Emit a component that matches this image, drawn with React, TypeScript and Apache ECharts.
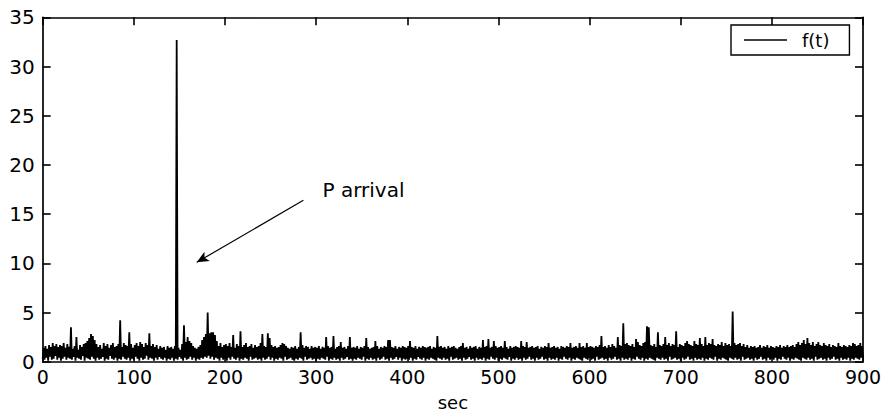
import React, { useEffect, useRef } from "react";
import * as echarts from "echarts";

// f(t), sampled once per second from t = 0 to t = 900 s (one row = 20 s)
const fValues: number[] = [
  0.3,1.4,0.2,1.6,0.4,1.3,0.1,1.7,0.5,1.5,0.2,1.9,0.3,1.6,0.6,1.8,0.2,1.5,0.4,1.7,
  0.1,1.6,0.3,1.9,0.5,1.4,0.2,1.8,0.4,1.5,0.3,3.5,0.2,1.3,0.5,1.6,0.1,2.5,0.4,1.2,
  0.3,1.7,0.2,1.5,0.6,1.8,0.1,1.9,0.4,2.1,0.3,2.4,0.2,2.8,0.5,2.6,0.3,2.2,0.1,1.8,
  0.4,1.5,0.2,1.7,0.3,1.3,0.5,1.9,0.1,1.6,0.3,1.8,0.2,1.4,0.6,1.7,0.3,1.9,0.2,1.5,
  0.4,1.6,0.1,1.8,0.3,4.2,0.2,1.5,0.5,1.9,0.3,1.7,0.2,1.6,0.4,3.0,0.1,1.8,0.3,1.4,
  0.2,1.7,0.5,1.9,0.3,1.6,0.1,2.0,0.4,1.8,0.2,1.5,0.3,1.9,0.6,1.7,0.2,2.9,0.4,1.6,
  0.3,1.8,0.1,1.5,0.4,1.7,0.2,1.3,0.5,1.6,0.3,1.4,0.2,1.5,0.4,1.2,0.1,1.6,0.3,1.4,
  0.2,1.5,0.4,1.3,0.1,1.6,0.3,32.7,0.2,1.4,0.5,1.2,0.3,1.8,0.1,3.7,0.4,2.0,0.2,2.5,
  0.3,2.1,0.5,1.9,0.2,1.6,0.4,1.4,0.1,1.3,0.3,1.5,0.2,1.7,0.4,2.2,0.3,2.5,0.5,2.8,
  0.4,5.0,0.6,2.9,0.3,3.0,0.5,3.0,0.2,2.7,0.4,2.1,0.3,1.6,0.1,1.9,0.4,1.5,0.2,1.7,
  0.3,1.8,0.1,1.6,0.4,1.9,0.2,1.5,0.5,2.7,0.3,1.4,0.2,1.8,0.4,1.6,0.1,3.1,0.3,1.5,
  0.2,1.7,0.4,1.9,0.3,1.5,0.1,1.6,0.5,1.8,0.2,1.4,0.3,1.7,0.4,1.5,0.2,1.6,0.3,1.9,
  0.1,2.8,0.4,1.6,0.2,1.5,0.3,2.9,0.5,2.4,0.2,1.7,0.4,1.5,0.1,1.6,0.3,1.4,0.2,1.5,
  0.4,1.7,0.3,1.9,0.1,1.8,0.5,1.6,0.2,1.4,0.3,1.3,0.4,1.5,0.2,1.4,0.1,1.6,0.3,1.3,
  0.2,1.5,0.4,3.0,0.3,1.7,0.1,1.4,0.5,1.6,0.2,1.5,0.3,1.3,0.4,1.6,0.2,1.4,0.3,1.5,
  0.1,1.4,0.3,1.6,0.2,1.3,0.4,1.5,0.3,1.4,0.2,2.5,0.5,1.6,0.1,1.4,0.3,1.5,0.2,2.6,
  0.4,1.3,0.2,1.5,0.3,1.6,0.1,2.0,0.4,1.4,0.2,1.5,0.3,1.3,0.5,1.6,0.2,2.5,0.3,1.4,
  0.1,1.5,0.3,1.4,0.2,1.6,0.4,1.3,0.3,1.5,0.2,1.4,0.5,1.6,0.1,2.4,0.3,1.5,0.2,1.3,
  0.4,1.4,0.2,1.5,0.3,2.1,0.1,1.6,0.4,1.3,0.2,1.5,0.3,1.4,0.5,1.6,0.2,1.5,0.3,2.2,
  0.1,2.2,0.4,1.5,0.2,1.4,0.3,1.6,0.5,1.3,0.2,1.5,0.4,1.4,0.1,1.6,0.3,1.5,0.2,1.4,
  0.3,1.6,0.2,2.1,0.4,1.5,0.1,1.4,0.3,1.6,0.2,1.3,0.5,1.5,0.3,1.4,0.2,1.6,0.4,1.5,
  0.1,1.4,0.3,1.5,0.2,1.6,0.4,1.3,0.3,1.5,0.2,1.4,0.1,2.6,0.4,1.5,0.3,1.6,0.2,1.4,
  0.4,1.5,0.2,1.3,0.3,1.6,0.1,1.4,0.5,1.5,0.2,1.6,0.3,1.4,0.4,1.3,0.2,1.5,0.3,1.6,
  0.1,1.9,0.4,1.4,0.2,1.5,0.3,1.3,0.5,1.6,0.2,1.4,0.3,1.5,0.1,1.6,0.4,1.3,0.2,1.5,
  0.3,1.4,0.2,2.2,0.4,1.5,0.1,1.6,0.3,2.3,0.2,1.4,0.5,1.5,0.3,2.1,0.2,1.6,0.4,1.4,
  0.1,1.5,0.3,1.6,0.2,1.4,0.4,2.1,0.3,1.5,0.2,1.3,0.5,1.6,0.1,1.4,0.3,1.5,0.2,1.6,
  0.4,1.5,0.2,1.4,0.3,2.1,0.1,1.6,0.4,1.5,0.2,2.0,0.3,1.4,0.5,1.5,0.2,1.6,0.3,1.4,
  0.1,1.5,0.4,1.6,0.2,1.3,0.3,1.5,0.5,1.4,0.2,1.6,0.3,1.5,0.1,1.9,0.4,1.4,0.2,1.5,
  0.3,1.6,0.2,1.4,0.4,1.5,0.1,1.3,0.3,1.6,0.2,1.5,0.5,1.4,0.3,1.6,0.2,1.5,0.4,1.9,
  0.1,1.4,0.3,1.5,0.2,1.6,0.4,1.4,0.3,1.9,0.2,1.5,0.1,1.6,0.4,1.4,0.3,1.9,0.2,1.5,
  0.4,1.6,0.2,1.5,0.3,1.4,0.1,1.6,0.5,1.5,0.2,1.7,0.3,2.6,0.4,1.5,0.2,1.6,0.3,1.4,
  0.1,1.7,0.4,1.5,0.2,1.8,0.3,1.6,0.5,1.4,0.2,2.5,0.3,1.7,0.1,1.6,0.4,3.9,0.2,1.8,
  0.3,1.9,0.2,1.7,0.4,1.6,0.1,1.8,0.3,1.5,0.2,2.3,0.5,2.0,0.3,1.7,0.2,1.6,0.4,1.9,
  0.1,2.0,0.3,3.6,0.2,3.5,0.4,1.7,0.3,1.6,0.2,1.8,0.1,1.5,0.4,3.0,0.3,1.7,0.2,1.6,
  0.4,1.8,0.2,2.5,0.3,1.7,0.1,1.9,0.5,1.6,0.2,1.8,0.3,1.7,0.4,3.1,0.2,1.5,0.3,1.8,
  0.1,1.7,0.4,1.6,0.2,1.9,0.3,2.1,0.5,1.8,0.2,1.7,0.3,1.6,0.1,2.1,0.4,1.8,0.2,1.7,
  0.3,2.4,0.2,1.8,0.4,1.6,0.1,2.5,0.3,1.7,0.2,1.9,0.4,1.8,0.3,2.3,0.2,1.7,0.5,1.6,
  0.1,1.8,0.3,1.7,0.2,2.0,0.4,1.6,0.3,1.9,0.2,1.7,0.1,1.8,0.4,1.6,0.3,5.1,0.2,1.9,
  0.4,1.7,0.2,1.8,0.3,1.9,0.1,1.6,0.5,1.8,0.2,1.5,0.3,1.7,0.4,1.4,0.2,1.6,0.3,1.5,
  0.1,1.6,0.4,1.4,0.2,1.5,0.3,1.7,0.5,1.4,0.2,1.6,0.3,1.5,0.1,1.7,0.4,1.4,0.2,1.6,
  0.3,1.5,0.2,1.4,0.4,1.6,0.1,1.5,0.3,1.7,0.2,1.4,0.5,1.6,0.3,1.5,0.2,1.7,0.4,1.5,
  0.1,1.6,0.3,1.7,0.2,1.5,0.4,1.8,0.3,2.0,0.2,1.7,0.1,1.9,0.4,2.2,0.3,1.8,0.2,2.4,
  0.4,1.9,0.2,1.7,0.3,2.0,0.1,1.6,0.5,1.8,0.2,2.0,0.3,1.7,0.4,1.6,0.2,1.9,0.3,1.7,
  0.1,1.6,0.4,1.8,0.2,1.5,0.3,1.7,0.5,1.6,0.2,1.5,0.3,1.9,0.1,1.6,0.4,1.5,0.2,1.7,
  0.3,1.6,0.2,1.5,0.4,1.7,0.1,1.6,0.3,1.9,0.2,1.8,0.4,1.6,0.3,1.7,0.2,1.9,0.4,1.6,
  0.3,
];

const sampleStep = 1; // seconds between samples
const xRange = [0, 900];
const xTickStep = 100;
const yRange = [0, 35];
const yTickStep = 5;
const seriesName = "f(t)";
const xAxisName = "sec";
const annotationText = "P arrival";
const arrowFrom = [286, 16.4];
const arrowTo = [169, 10.1];
const annotationAt = [307, 17.4];

const FONT = "DejaVu Sans";
const INK = "#000";

export default function App() {
  const ref = useRef<HTMLDivElement>(null);
  useEffect(() => {
    document.body.style.margin = "0";
    const chart = echarts.init(ref.current!, null, { renderer: "svg" });
    const data = fValues.map((v, i) => [i * sampleStep, v]);
    const axisCommon = {
      type: "value" as const,
      splitLine: { show: false },
      axisLine: { show: true, onZero: false, lineStyle: { color: INK, width: 1.7 } },
      axisTick: { show: true, inside: true, length: 8, lineStyle: { color: INK, width: 1.6 } },
    };
    chart.setOption({
      animation: false,
      backgroundColor: "#fff",
      grid: {
        left: 42.7,
        right: 24,
        top: 17.3,
        bottom: 51.3,
        containLabel: false,
        outerBoundsMode: "none",
      },
      xAxis: [
        {
          ...axisCommon,
          position: "bottom",
          min: xRange[0],
          max: xRange[1],
          interval: xTickStep,
          name: xAxisName,
          nameLocation: "middle",
          nameGap: 32,
          nameTextStyle: { color: INK, fontFamily: FONT, fontSize: 18, lineHeight: 18 },
          axisLabel: { color: INK, fontFamily: FONT, fontSize: 19, margin: 6 },
        },
        {
          ...axisCommon,
          position: "top",
          min: xRange[0],
          max: xRange[1],
          interval: xTickStep,
          axisLabel: { show: false },
        },
      ],
      yAxis: [
        {
          ...axisCommon,
          position: "left",
          min: yRange[0],
          max: yRange[1],
          interval: yTickStep,
          axisLabel: { color: INK, fontFamily: FONT, fontSize: 20, margin: 8 },
        },
        {
          ...axisCommon,
          position: "right",
          min: yRange[0],
          max: yRange[1],
          interval: yTickStep,
          axisLabel: { show: false },
        },
      ],
      legend: {
        show: true,
        data: [seriesName],
        left: 731,
        top: 25,
        orient: "horizontal",
        backgroundColor: "#fff",
        borderColor: INK,
        borderWidth: 1.4,
        borderRadius: 0,
        padding: [5, 20, 5, 13],
        icon: "rect",
        itemWidth: 43,
        itemHeight: 1.5,
        itemStyle: { color: INK },
        selectedMode: false,
        textStyle: { color: INK, fontFamily: FONT, fontSize: 18, padding: [0, 0, 0, 10], lineHeight: 20 },
      },
      series: [
        {
          name: seriesName,
          type: "line",
          xAxisIndex: 0,
          yAxisIndex: 0,
          data,
          showSymbol: false,
          symbol: "none",
          lineStyle: { color: INK, width: 1.8 },
          itemStyle: { color: INK },
          silent: true,
          markLine: {
            silent: true,
            symbol: ["none", "arrow"],
            symbolSize: [8, 12],
            label: { show: false },
            lineStyle: { color: INK, width: 1.2, type: "solid" },
            data: [[{ coord: arrowFrom }, { coord: arrowTo }]],
          },
          markPoint: {
            silent: true,
            symbol: "circle",
            symbolSize: 0,
            label: {
              show: true,
              position: "right",
              distance: 0,
              formatter: annotationText,
              color: INK,
              fontFamily: FONT,
              fontSize: 20,
            },
            data: [{ coord: annotationAt }],
          },
        },
      ],
    });
    return () => chart.dispose();
  }, []);
  return <div ref={ref} style={{ width: 887, height: 413 }} />;
}
